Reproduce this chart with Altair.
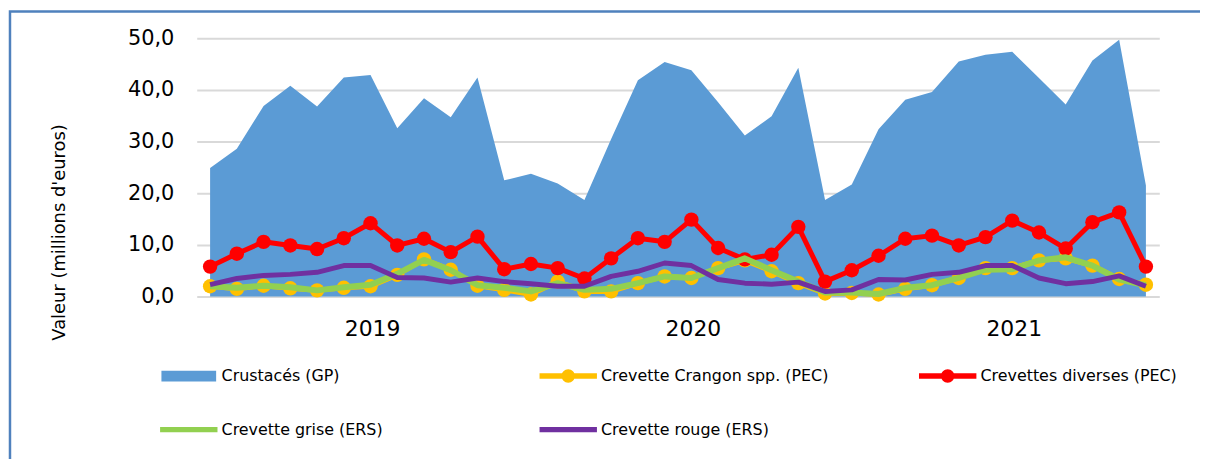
import altair as alt
import pandas as pd

years = ["2019", "2020", "2021"]
months = list(range(36))

crustaces = [24.9, 28.6, 36.9, 40.8, 36.8, 42.4, 42.9, 32.6, 38.4, 34.7, 42.4, 22.5,
             23.8, 21.9, 18.7, 30.5, 41.9, 45.4, 43.8, 37.6, 31.2, 34.9, 44.3, 18.7,
             21.7, 32.4, 38.1, 39.6, 45.5, 46.8, 47.4, 42.3, 37.2, 45.7, 49.7, 21.5]
crangon = [2.0, 1.5, 2.1, 1.6, 1.2, 1.7, 2.0, 4.2, 7.2, 5.2, 2.1, 1.3,
           0.4, 2.9, 1.0, 1.0, 2.6, 3.9, 3.6, 5.5, 7.0, 4.9, 2.6, 0.6,
           0.7, 0.4, 1.5, 2.2, 3.6, 5.5, 5.5, 7.0, 7.4, 6.0, 3.4, 2.3]
diverses = [5.8, 8.3, 10.6, 9.9, 9.2, 11.3, 14.2, 9.9, 11.2, 8.6, 11.6, 5.3,
            6.3, 5.5, 3.5, 7.4, 11.3, 10.6, 14.9, 9.4, 7.2, 8.1, 13.5, 2.9,
            5.1, 7.9, 11.2, 11.8, 9.9, 11.5, 14.7, 12.4, 9.3, 14.4, 16.3, 5.8]
grise = [2.0, 1.7, 2.1, 1.8, 1.2, 1.8, 2.3, 4.4, 7.1, 5.1, 2.2, 1.7,
         1.0, 2.6, 1.3, 1.5, 2.6, 3.9, 3.6, 5.5, 7.4, 5.1, 2.9, 0.8,
         0.8, 0.5, 1.7, 2.2, 3.6, 5.2, 5.3, 7.0, 7.6, 6.0, 3.3, 2.2]
rouge = [2.3, 3.5, 4.1, 4.3, 4.7, 6.0, 6.0, 3.7, 3.6, 2.8, 3.6, 2.9,
         2.5, 2.0, 2.0, 3.9, 4.9, 6.5, 6.0, 3.3, 2.6, 2.4, 2.8, 1.0,
         1.3, 3.3, 3.2, 4.3, 4.7, 6.0, 6.0, 3.6, 2.5, 2.9, 4.0, 2.0]

series_names = ["Crustacés (GP)", "Crevette Crangon spp. (PEC)", "Crevettes diverses (PEC)",
                "Crevette grise (ERS)", "Crevette rouge (ERS)"]
series_colors = ["#5B9BD5", "#FFC000", "#FF0000", "#92D050", "#7030A0"]
y_ticks = [0, 10, 20, 30, 40, 50]

FONT = "DejaVu Sans"

rect_path = "M-1.02,-0.2 L1.02,-0.2 L1.02,0.2 L-1.02,0.2 Z"
dot_path = ("M-1.07,-0.1 L1.07,-0.1 L1.07,0.1 L-1.07,0.1 Z "
            "M0.25,0 A0.25,0.25 0 1,1 -0.25,0 A0.25,0.25 0 1,1 0.25,0 Z")
line_path = "M-1.07,-0.1 L1.07,-0.1 L1.07,0.1 L-1.07,0.1 Z"
legend_shapes = [rect_path, dot_path, dot_path, line_path, line_path]

df = pd.DataFrame({"m": months, "v": crustaces})

x_axis = alt.Axis(values=[i * 12 + 5.5 for i in range(len(years))],
                  labelExpr="[" + ",".join("'%s'" % y for y in years) + "][floor(datum.value/12)]",
                  grid=False, ticks=False, domain=False, title=None,
                  labelFont=FONT, labelFontSize=22, labelColor="#000000",
                  labelBaseline="middle", labelPadding=32, labelOffset=15)
y_axis = alt.Axis(values=y_ticks,
                  labelExpr="replace(format(datum.value, '.1f'), '.', ',')",
                  grid=True, gridColor="#D9D9D9", gridWidth=2,
                  ticks=False, domain=False,
                  labelFont=FONT, labelFontSize=21, labelColor="#000000", labelPadding=23,
                  title="Valeur (millions d'euros)", titleFont=FONT, titleFontSize=18,
                  titleFontWeight="normal", titleColor="#000000",
                  titleAngle=270, titleX=-138, titleY=195,
                  titleAlign="center", titleBaseline="middle")
x_scale = alt.Scale(domain=[-0.5, len(months) - 0.5], nice=False, zero=False)
y_scale = alt.Scale(domain=[0, 50], nice=False)


def xe():
    return alt.X("m:Q", scale=x_scale, axis=x_axis)


def ye():
    return alt.Y("v:Q", scale=y_scale, axis=y_axis)


area = alt.Chart(df).mark_area(color=series_colors[0]).encode(x=xe(), y=ye())

border = alt.Chart(pd.DataFrame({"d": [0]})).mark_rect(
    filled=False, stroke="#4F81BD", strokeWidth=2.5).encode(
    x=alt.value(-188), y=alt.value(-27), x2=alt.value(1100), y2=alt.value(600))

layers = [area, border]
line_data = [crangon, diverses, grise, rouge]
with_points = [True, True, False, False]
widths = [5, 5, 6, 5]
for vals, col, pts, w in zip(line_data, series_colors[1:], with_points, widths):
    d = pd.DataFrame({"m": months, "v": vals})
    layers.append(alt.Chart(d).mark_line(color=col, strokeWidth=w, strokeJoin="round")
                  .encode(x=xe(), y=ye()))
    if pts:
        layers.append(alt.Chart(d).mark_point(filled=True, color=col, size=210, opacity=1)
                      .encode(x=xe(), y=ye()))

leg = alt.Legend(title=None, orient="none", legendX=-35, legendY=313, columns=3,
                 direction="horizontal",
                 gridAlign="all", symbolSize=2916, symbolStrokeWidth=0, symbolOpacity=1,
                 labelFont=FONT, labelFontSize=16, labelColor="#000000", labelOffset=6,
                 columnPadding=90, rowPadding=19, labelLimit=400)
leg_df = pd.DataFrame({"s": series_names})
legend_layer = alt.Chart(leg_df).transform_filter("false").mark_point(filled=True, opacity=1).encode(
    color=alt.Color("s:N", scale=alt.Scale(domain=series_names, range=series_colors), legend=leg),
    shape=alt.Shape("s:N", scale=alt.Scale(domain=series_names, range=legend_shapes), legend=leg),
)
layers.append(legend_layer)

chart = alt.layer(*layers).properties(
    width=969, height=260,
    autosize=alt.AutoSizeParams(type="none"),
    padding={"left": 190, "top": 29, "right": 41, "bottom": 162},
    background="#FFFFFF",
).configure_view(stroke=None)

chart.save("out.html", embed_options={"renderer": "svg", "actions": False})
